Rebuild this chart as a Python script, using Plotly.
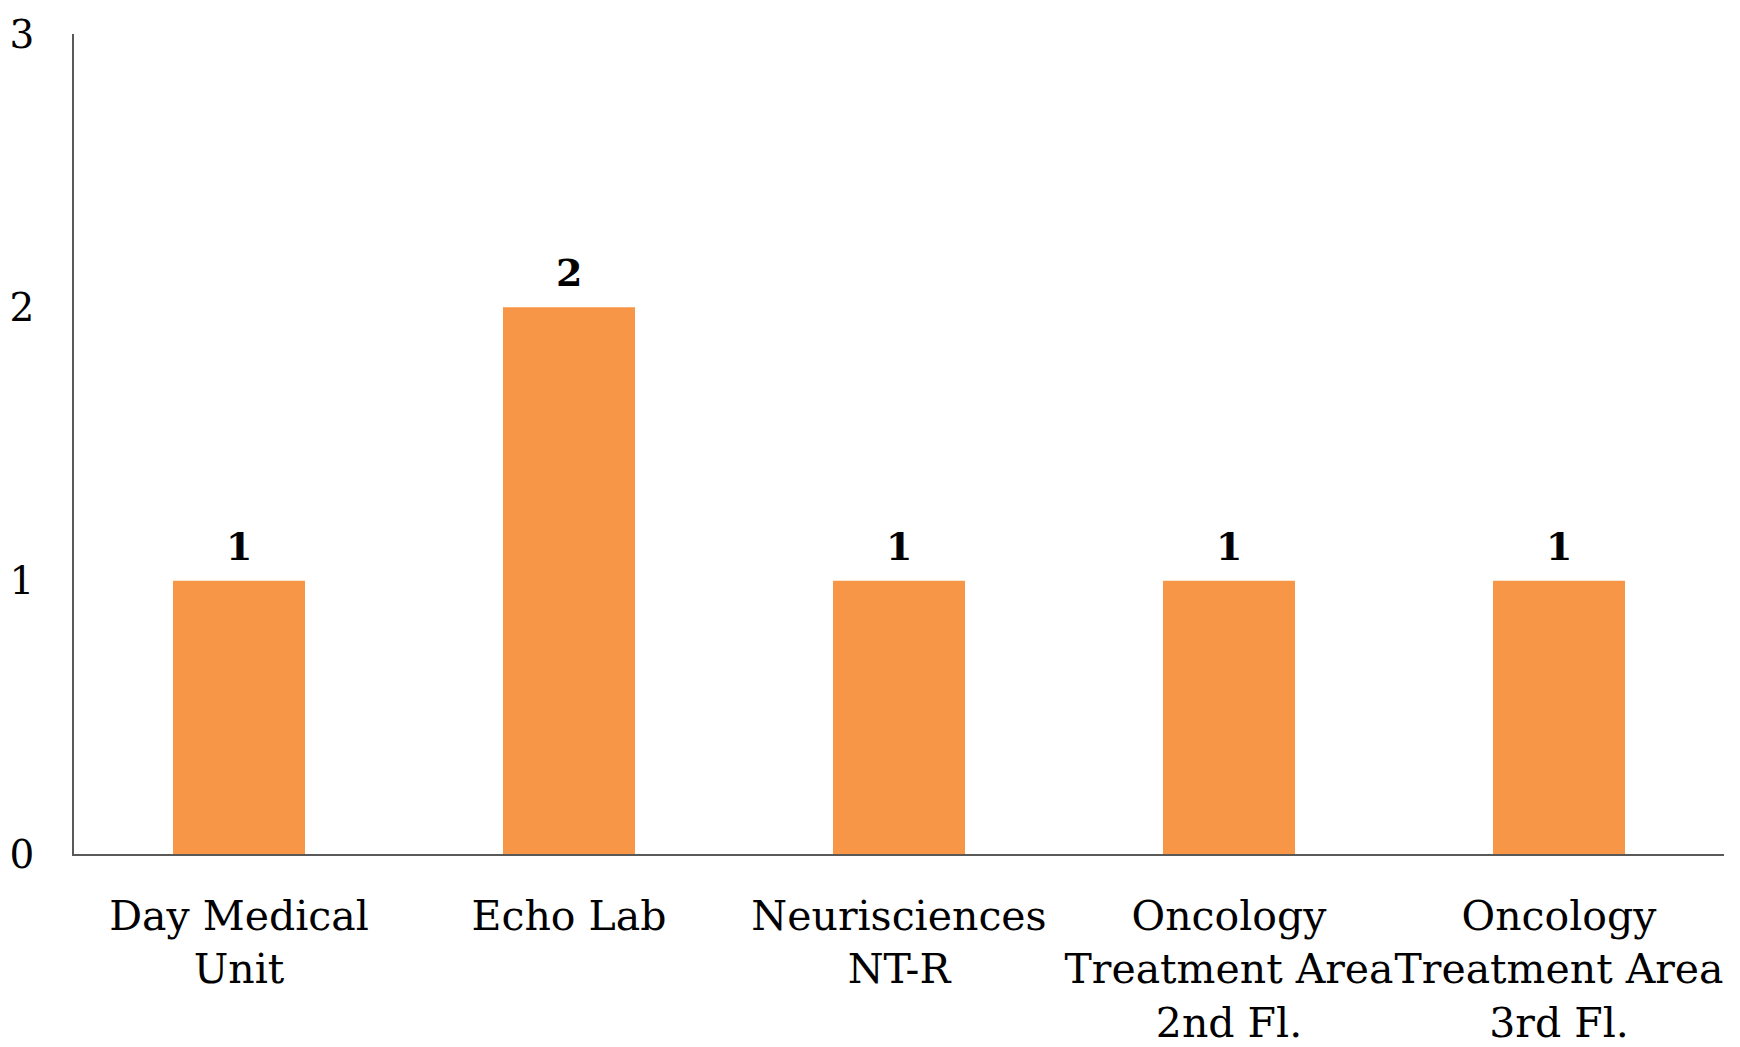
import plotly.graph_objects as go

categories = ["Day Medical<br>Unit", "Echo Lab", "Neurisciences<br>NT-R",
              "Oncology<br>Treatment Area<br>2nd Fl.", "Oncology<br>Treatment Area<br>3rd Fl."]
values = [1, 2, 1, 1, 1]
y_ticks = [0, 1, 2, 3]

FONT = "DejaVu Serif"

fig = go.Figure(go.Bar(
    x=categories, y=values, width=0.4,
    marker=dict(color="#F79646", line=dict(width=0)),
))

for c, v in zip(categories, values):
    fig.add_annotation(x=c, y=v, text=str(v), showarrow=False, yanchor="bottom",
                       yshift=10, font=dict(family=FONT, size=38, color="black", weight="bold"))

fig.update_layout(
    width=1732, height=1039,
    margin=dict(l=66, r=16, t=26, b=193),
    plot_bgcolor="white", paper_bgcolor="white",
    showlegend=False,
    font=dict(family=FONT, color="black"),
)
fig.update_xaxes(showline=True, linecolor="#595959", linewidth=1.5, automargin=False,
                 ticks="", showgrid=False, tickfont=dict(size=41, family=FONT),
                 ticklabelstandoff=25, tickangle=0, ticklabeloverflow="allow")
fig.update_yaxes(range=[0, 3], tickvals=y_ticks, showline=True, linecolor="#595959",
                 linewidth=1.5, ticks="", showgrid=False, zeroline=False, automargin=False,
                 tickfont=dict(size=39, family=FONT), ticklabelstandoff=30,
                 ticklabeloverflow="allow")

fig.write_html("out.html")
